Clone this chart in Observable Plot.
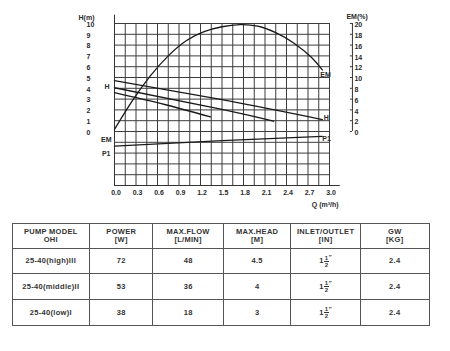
<!DOCTYPE html>
<html><head><meta charset="utf-8">
<script src="https://cdn.jsdelivr.net/npm/d3@7"></script>
<script src="https://cdn.jsdelivr.net/npm/@observablehq/plot@0.6"></script>
<style>
body{margin:0;background:#fff;font-family:"Liberation Sans",Arial,sans-serif;}
#wrap{width:450px;height:351px;position:relative;overflow:hidden;background:#fff;}
#chart{position:absolute;left:0;top:0;}
table{position:absolute;left:11.5px;top:222.5px;border-collapse:collapse;table-layout:fixed;width:418px;}
td{border:1px solid #555;text-align:center;vertical-align:middle;font-size:7.5px;font-weight:bold;color:#333;padding:0;line-height:7.6px;letter-spacing:0.3px;}
.frac{display:inline-block;vertical-align:middle;font-size:6px;line-height:6px;text-align:center;margin-left:0.5px;}
.frac span{display:block;}
.frac .num{border-bottom:0.8px solid #333;padding:0 0.5px;}
.sec{vertical-align:4px;font-size:6px;}
</style></head><body><div id="wrap"><div id="chart"></div><table id="tbl"></table></div>
<script>
// ---- chart axes ----
const xTicks = [0, 0.3, 0.6, 0.9, 1.2, 1.5, 1.8, 2.1, 2.4, 2.7, 3.0];
const xGrid = [0, 0.15, 0.3, 0.45, 0.6, 0.75, 0.9, 1.05, 1.2, 1.35, 1.5, 1.65, 1.8, 1.95, 2.1, 2.25, 2.4, 2.55, 2.7, 2.85, 3.0];
const yGrid = [-5, -4, -3, -2, -1, 0, 1, 2, 3, 4, 5, 6, 7, 8, 9, 10];
const hTicks = [0, 1, 2, 3, 4, 5, 6, 7, 8, 9, 10];
const emTicks = [0, 2, 4, 6, 8, 10, 12, 14, 16, 18, 20];

// ---- series (Q in m3/h) ----
const emQ   = [0, 0.25, 0.5, 0.75, 1.0, 1.25, 1.5, 1.75, 2.0, 2.25, 2.5, 2.75, 2.9];
const emPct = [0.4, 5.7, 10.3, 14.0, 16.8, 18.5, 19.4, 19.8, 19.5, 18.3, 16.4, 13.7, 11.4];
const hHighQ = [0, 1.5, 2.9];   const hHighH = [4.72, 2.95, 1.11];
const hMidQ  = [0, 1.5, 2.22];  const hMidH  = [4.05, 2.05, 0.95];
const hLowQ  = [0, 0.7, 1.34];  const hLowH  = [3.6, 2.5, 1.35];
// P1 has no scale on the chart: values in the chart's own (H-grid) units
const p1Q = [0, 1.5, 2.9];      const p1V = [-1.35, -0.85, -0.45];

// ---- table ----
const headers = [["PUMP MODEL", "OHI"], ["POWER", "[W]"], ["MAX.FLOW", "[L/MIN]"], ["MAX.HEAD", "[M]"], ["INLET/OUTLET", "[IN]"], ["GW", "[KG]"]];
const models = ["25-40(high)III", "25-40(middle)II", "25-40(low)I"];
const power = [72, 53, 38];
const maxFlow = [48, 36, 18];
const maxHead = ["4.5", "4", "3"];
const inletWhole = ["1", "1", "1"];
const inletNum = ["1", "1", "1"];
const inletDen = ["2", "2", "2"];
const gw = ["2.4", "2.4", "2.4"];

const zip = (xs, ys) => xs.map((x, i) => ({q: x, v: ys[i]}));
const em = emQ.map((q, i) => ({q, v: emPct[i] / 2}));
const hHigh = zip(hHighQ, hHighH), hMid = zip(hMidQ, hMidH), hLow = zip(hLowQ, hLowH);
const p1 = zip(p1Q, p1V);
const last = a => [a[a.length - 1]];

const EMX = 3.32; // right axis position (x units)
const ink = "#1a1a1a", gridC = "#3c3c3c";
const txt = {fill: "#2a2a2a", fontWeight: "bold", fontSize: 7};

const chart = Plot.plot({
  width: 450, height: 212,
  marginLeft: 114, marginRight: 121, marginTop: 23, marginBottom: 27,
  x: {domain: [0, 3], axis: null, label: null},
  y: {domain: [-5, 10], axis: null, label: null},
  style: {fontFamily: "'Liberation Sans', Arial, sans-serif", background: "#fff", overflow: "visible"},
  marks: [
    Plot.ruleX(xGrid, {y1: -5, y2: 10, stroke: gridC, strokeWidth: 1}),
    Plot.ruleY(yGrid, {x1: 0, x2: 3, stroke: gridC, strokeWidth: 1}),
    Plot.ruleX([0], {y1: -5, y2: 10.77, stroke: "#333"}),
    Plot.ruleY([-5], {x1: 0, x2: 3.15, stroke: "#333"}),
    Plot.axisX(xTicks, {anchor: "bottom", label: null, tickSize: 0, tickPadding: 5, dx: 1.5, tickFormat: d => d.toFixed(1), ...txt}),
    Plot.text(hTicks, {x: 0, y: d => d, text: d => String(d), textAnchor: "start", dx: -28, dy: 1, ...txt}),
    Plot.text(["H(m)"], {x: 0, y: 10.55, text: d => d, textAnchor: "end", dx: -20, ...txt}),
    Plot.ruleX([EMX], {y1: 0, y2: 10, stroke: "#333"}),
    Plot.ruleY(emTicks, {y: d => d / 2, x1: EMX - 0.028, x2: EMX, stroke: "#333"}),
    Plot.text(emTicks, {x: EMX, y: d => d / 2, text: d => String(d), textAnchor: "start", dx: 2, dy: 1.5, ...txt}),
    Plot.text(["EM(%)"], {x: EMX, y: 10.6, text: d => d, textAnchor: "start", dx: -6, ...txt}),
    Plot.text(["Q (m³/h)"], {x: 2.94, y: -6.75, text: d => d, textAnchor: "middle", ...txt}),
    Plot.line(em, {x: "q", y: "v", curve: "natural", stroke: ink, strokeWidth: 1.3}),
    Plot.line(hHigh, {x: "q", y: "v", curve: "natural", stroke: ink, strokeWidth: 1.3}),
    Plot.line(hMid, {x: "q", y: "v", curve: "natural", stroke: ink, strokeWidth: 1.3}),
    Plot.line(hLow, {x: "q", y: "v", curve: "natural", stroke: ink, strokeWidth: 1.3}),
    Plot.line(p1, {x: "q", y: "v", curve: "natural", stroke: ink, strokeWidth: 1.3}),
    Plot.text(["H"], {x: 0, y: 4.1, text: d => d, textAnchor: "end", dx: -5, ...txt}),
    Plot.text(["EM"], {x: 0, y: -0.8, text: d => d, textAnchor: "end", dx: -3, ...txt}),
    Plot.text(["P1"], {x: 0, y: -2.08, text: d => d, textAnchor: "end", dx: -4, ...txt}),
    Plot.text(last(hHigh), {x: "q", y: "v", text: () => "H", textAnchor: "start", dx: 1.5, dy: -2, ...txt}),
    Plot.text(last(em), {x: "q", y: "v", text: () => "EM", textAnchor: "start", dx: -2, dy: 5, ...txt}),
    Plot.text(last(p1), {x: "q", y: "v", text: () => "P1", textAnchor: "start", dx: 0, dy: 2.5, ...txt})
  ]
});
document.getElementById("chart").appendChild(chart);

// table
const colW = [77.6, 63.4, 70.3, 67.7, 69.3, 69];
const rowH = [25, 25.7, 25.8, 25.7];
const tbl = d3.select("#tbl");
const cg = tbl.append("colgroup");
colW.forEach(w => cg.append("col").style("width", w + "px"));
const hr = tbl.append("tr").style("height", rowH[0] + "px");
headers.forEach(h => hr.append("td").html(h[0] + "<br>" + h[1]));
models.forEach((m, i) => {
  const tr = tbl.append("tr").style("height", rowH[i + 1] + "px");
  tr.append("td").text(m);
  tr.append("td").text(power[i]);
  tr.append("td").text(maxFlow[i]);
  tr.append("td").text(maxHead[i]);
  tr.append("td").html(inletWhole[i] + '<span class="frac"><span class="num">' + inletNum[i] + '</span><span>' + inletDen[i] + '</span></span><span class="sec">″</span>');
  tr.append("td").text(gw[i]);
});
</script></body></html>
